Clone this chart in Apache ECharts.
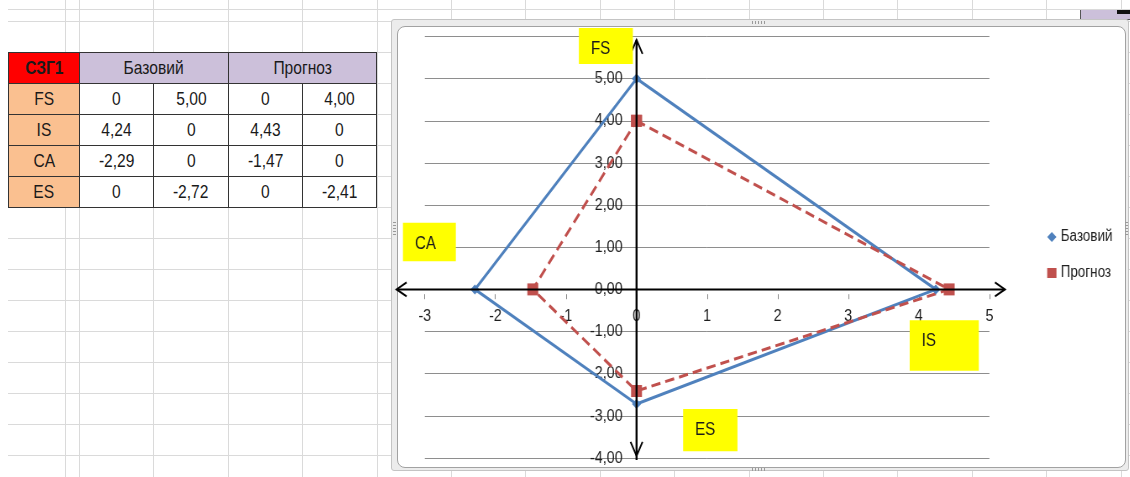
<!DOCTYPE html>
<html>
<head>
<meta charset="utf-8">
<script src="https://cdn.jsdelivr.net/npm/echarts@6/dist/echarts.min.js"></script>
<style>
  html, body { margin: 0; padding: 0; width: 1130px; height: 477px; overflow: hidden; background: #fff; }
  body { position: relative; font-family: 'Liberation Sans', Arial, sans-serif; }
  #sheet {
    position: absolute; left: 0; top: 0; width: 1130px; height: 477px;
    background-image:
      repeating-linear-gradient(to bottom, #dadada 0 1px, transparent 1px 31px),
      repeating-linear-gradient(to right, #dadada 0 1px, transparent 1px 74.4px);
    background-position: 0 21px, 79px 0;
  }
  #leftStrip { position: absolute; left: 0; top: 0; width: 8px; height: 477px; background: #fff; }
  #topRightCell { position: absolute; left: 1080px; top: 10px; width: 50px; height: 10px; background: #CCC0DA;
    border-left: 1px solid #555; border-bottom: 1px solid #555; box-sizing: border-box; }
  #topRightMark { position: absolute; left: 1117px; top: 10px; width: 13px; height: 4px; background: #111; }
  #table {
    position: absolute; left: 8px; top: 52px;
    display: grid; grid-template-columns: 70px 73px 74px 73px 73px; grid-template-rows: repeat(5, 30px);
    gap: 1px; background: #333; border: 1px solid #333;
  }
  #table div { display: flex; align-items: center; justify-content: center; background: #fff;
    font-size: 19px; color: #1a1a1a; overflow: hidden; }
  #table div span { display: inline-block; transform: scaleX(0.82); white-space: nowrap; }
  #table div.corner { background: #FF0000; font-weight: bold; }
  #table div.head { background: #CCC0DA; grid-column: span 2; }
  #table div.rowHead { background: #FAC090; }
  #frameOuter { position: absolute; left: 391px; top: 19px; width: 736px; height: 450px;
    background: #ececec; border: 1px solid #c4c4c4; border-radius: 3px; }
  #frameInner { position: absolute; left: 397px; top: 26px; width: 727px; height: 440px;
    background: #fff; border: 1px solid #a2a2a2; border-radius: 8px; }
  .handle { position: absolute; background: repeating-linear-gradient(to right, #9a9a9a 0 1px, transparent 1px 3px); }
  .handleV { position: absolute; background: repeating-linear-gradient(to bottom, #9a9a9a 0 1px, transparent 1px 3px); }
  #chart { position: absolute; left: 0; top: 0; height: 477px; transform-origin: 0 0; }
</style>
</head>
<body>
<div id="sheet"></div>
<div id="leftStrip"></div>
<div id="topRightCell"></div>
<div id="topRightMark"></div>
<div id="table"></div>
<div id="frameOuter"></div>
<div id="frameInner"></div>
<div class="handle" style="left:752px;top:21px;width:14px;height:3px"></div>
<div class="handle" style="left:752px;top:468px;width:14px;height:3px"></div>
<div class="handleV" style="left:393px;top:222px;width:3px;height:14px"></div>
<div class="handleV" style="left:1125px;top:222px;width:3px;height:14px"></div>
<div id="chart"></div>
<script>
// Indicator rows of the table
const categories = ['FS', 'IS', 'CA', 'ES'];
const tableTitle = 'СЗГ1';
const seriesNames = ['Базовий', 'Прогноз'];

// Базовий: x and y coordinates of each indicator
const baseX = [0, 4.24, -2.29, 0];
const baseY = [5.00, 0, 0, -2.72];

// Прогноз: x and y coordinates of each indicator
const forecastX = [0, 4.43, -1.47, 0];
const forecastY = [4.00, 0, 0, -2.41];

// Axis ranges and steps
const xRange = [-3, 5];
const yRange = [-4, 6];
const tickStep = 1;

// Polygon path: FS -> IS -> ES -> CA -> FS
const pathOrder = [0, 1, 3, 2, 0];

const FONT = "'Liberation Sans', Arial, sans-serif";

// The chart canvas is drawn wider and squeezed horizontally to give a condensed type face
const SQUEEZE = 0.84;
const PAGE_W = 1130;
const ux = px => px / SQUEEZE;   // page px -> canvas px (horizontal)

function fmt(v) { return v === 0 ? '0' : v.toFixed(2).replace('.', ','); }

// ---- table ----
(function buildTable() {
  const t = document.getElementById('table');
  const cell = (cls, txt) => '<div' + (cls ? ' class="' + cls + '"' : '') + '><span>' + txt + '</span></div>';
  const cells = [cell('corner', tableTitle)];
  seriesNames.forEach(n => cells.push(cell('head', n)));
  categories.forEach((c, i) => {
    cells.push(cell('rowHead', c));
    [baseX[i], baseY[i], forecastX[i], forecastY[i]].forEach(v => cells.push(cell('', fmt(v))));
  });
  t.innerHTML = cells.join('');
})();

// ---- chart ----
const chartDom = document.getElementById('chart');
chartDom.style.width = ux(PAGE_W) + 'px';
chartDom.style.transform = 'scaleX(' + SQUEEZE + ')';
const chart = echarts.init(chartDom, null, { renderer: 'canvas' });

const basePoints = pathOrder.map(i => [baseX[i], baseY[i]]);
const forecastPoints = pathOrder.map(i => [forecastX[i], forecastY[i]]);

chart.setOption({
  animation: false,
  backgroundColor: 'transparent',
  textStyle: { fontFamily: FONT },
  grid: { left: ux(424.8), right: ux(PAGE_W - 989.6), top: 36.5, bottom: 19, containLabel: false },
  xAxis: {
    type: 'value', min: xRange[0], max: xRange[1], interval: tickStep,
    axisLine: { show: false, onZero: false },
    axisTick: { show: true, length: 5, lineStyle: { color: '#868686', width: 1 } },
    axisLabel: { color: '#1e1e1e', fontSize: 17, fontFamily: FONT, margin: 14 },
    splitLine: { show: false }
  },
  yAxis: {
    type: 'value', min: yRange[0], max: yRange[1], interval: tickStep,
    axisLine: { show: false, onZero: false },
    axisTick: { show: false },
    axisLabel: { color: '#1e1e1e', fontSize: 17, fontFamily: FONT, margin: ux(14),
      formatter: v => v.toFixed(2).replace('.', ',') },
    splitLine: { show: true, lineStyle: { color: '#8e8e8e', width: 1 } }
  },
  legend: {
    orient: 'vertical', left: ux(1043), top: 223, itemGap: 18, itemWidth: 11, itemHeight: 10,
    textStyle: { fontSize: 16, color: '#222', fontFamily: FONT, lineHeight: 18 },
    data: [{ name: seriesNames[0], icon: 'diamond' }, { name: seriesNames[1], icon: 'rect' }]
  },
  series: [
    {
      name: seriesNames[0], type: 'line', data: basePoints,
      symbol: 'diamond', symbolSize: [11, 10],
      lineStyle: { color: '#4F81BD', width: 3 },
      itemStyle: { color: '#4F81BD' }
    },
    {
      name: seriesNames[1], type: 'line', data: forecastPoints,
      symbol: 'rect', symbolSize: [13, 12],
      lineStyle: { color: '#C0504D', width: 3, type: [11, 6] },
      itemStyle: { color: '#C0504D' }
    }
  ]
});

const toPx = (x, y) => chart.convertToPixel({ gridIndex: 0 }, [x, y]);

// Move both axes so they cross at the origin
(function crossAxesAtOrigin() {
  const o = toPx(0, 0);
  const corner = toPx(xRange[0], yRange[0]);
  chart.setOption({
    xAxis: { offset: -(corner[1] - o[1]) },
    yAxis: { offset: -(o[0] - corner[0]) }
  });
})();

// ---- axis arrows and yellow indicator captions ----
// Arrow extents in axis units
const arrowLeft = -3.4, arrowRight = 5.22, arrowTop = 5.92, arrowBottom = -3.95;

// Caption boxes in axis units: [x0, yTop, x1, yBottom]
const captions = [
  { text: 'FS', box: [-0.817, 6.20, -0.052, 5.35] },
  { text: 'CA', box: [-3.31, 1.58, -2.56, 0.67] },
  { text: 'IS', box: [3.87, -0.73, 4.85, -1.93] },
  { text: 'ES', box: [0.66, -2.84, 1.43, -3.84] }
];

function buildGraphics() {
  const o = toPx(0, 0);
  const l = toPx(arrowLeft, 0), r = toPx(arrowRight, 0);
  const t = toPx(0, arrowTop), b = toPx(0, arrowBottom);
  const stroke = { stroke: '#000', lineWidth: 2, fill: null };
  const hx = ux(10), hy = 7, vx = ux(6), vy = 14;
  const els = [
    { type: 'line', z: 100, shape: { x1: l[0], y1: o[1], x2: r[0], y2: o[1] }, style: stroke },
    { type: 'line', z: 100, shape: { x1: o[0], y1: t[1], x2: o[0], y2: b[1] + 4 }, style: { stroke: '#000', lineWidth: ux(2) } },
    { type: 'polyline', z: 100, shape: { points: [[l[0] + hx, o[1] - hy], [l[0], o[1]], [l[0] + hx, o[1] + hy]] }, style: stroke },
    { type: 'polyline', z: 100, shape: { points: [[r[0] - hx, o[1] - hy], [r[0], o[1]], [r[0] - hx, o[1] + hy]] }, style: stroke },
    { type: 'polyline', z: 100, shape: { points: [[o[0] - vx, t[1] + vy], [o[0], t[1]], [o[0] + vx, t[1] + vy]] }, style: stroke },
    { type: 'polyline', z: 100, shape: { points: [[o[0] - vx, b[1] - vy], [o[0], b[1]], [o[0] + vx, b[1] - vy]] }, style: stroke }
  ];
  captions.forEach(c => {
    const p0 = toPx(c.box[0], c.box[1]);
    const p1 = toPx(c.box[2], c.box[3]);
    els.push({ type: 'rect', z: 110, shape: { x: p0[0], y: p0[1], width: p1[0] - p0[0], height: p1[1] - p0[1] },
      style: { fill: '#FFFF00' } });
    els.push({ type: 'text', z: 111, x: p0[0] + ux(12), y: p0[1] + 21,
      style: { text: c.text, fill: '#1a1a1a', font: '18px ' + FONT, verticalAlign: 'middle' } });
  });
  return els;
}

chart.setOption({ graphic: { elements: buildGraphics() } });
</script>
</body>
</html>
